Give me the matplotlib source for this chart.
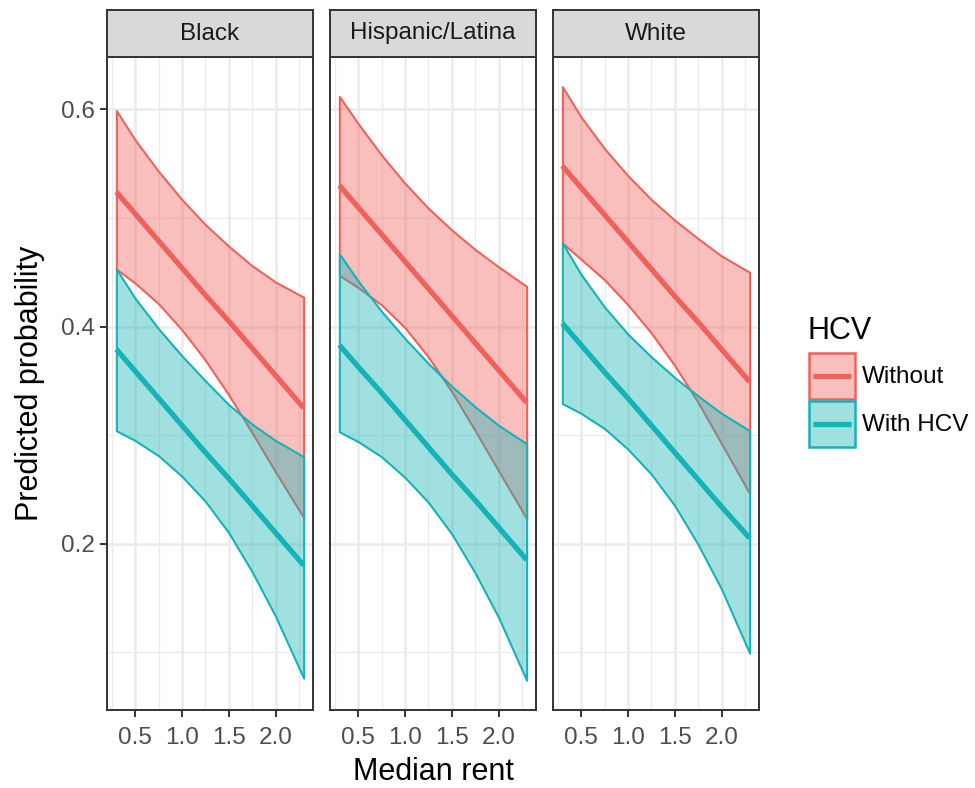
import matplotlib
matplotlib.use("Agg")
import matplotlib.pyplot as plt
from matplotlib.colors import to_rgba
from matplotlib.patches import Rectangle
from matplotlib.lines import Line2D
from matplotlib.ticker import MultipleLocator

plt.rcParams['font.family'] = ['Liberation Sans', 'DejaVu Sans']

# data
rent = [0.3, 0.5, 0.75, 1.0, 1.25, 1.5, 1.75, 2.0, 2.3]
facets = ["Black", "Hispanic/Latina", "White"]
groups = ["Without", "With HCV"]

black_without_fit = [0.524, 0.504, 0.479, 0.454, 0.429, 0.405, 0.380, 0.355, 0.325]
black_without_lo = [0.453, 0.440, 0.421, 0.397, 0.369, 0.337, 0.302, 0.266, 0.224]
black_without_hi = [0.599, 0.572, 0.543, 0.517, 0.494, 0.474, 0.456, 0.441, 0.427]
black_with_fit = [0.379, 0.359, 0.334, 0.309, 0.284, 0.260, 0.235, 0.210, 0.180]
black_with_lo = [0.304, 0.295, 0.281, 0.262, 0.239, 0.210, 0.174, 0.133, 0.076]
black_with_hi = [0.453, 0.426, 0.398, 0.373, 0.350, 0.328, 0.310, 0.295, 0.280]

hisp_without_fit = [0.530, 0.510, 0.485, 0.460, 0.435, 0.410, 0.385, 0.360, 0.330]
hisp_without_lo = [0.447, 0.436, 0.420, 0.399, 0.372, 0.340, 0.304, 0.267, 0.223]
hisp_without_hi = [0.612, 0.587, 0.558, 0.532, 0.509, 0.489, 0.471, 0.455, 0.437]
hisp_with_fit = [0.383, 0.363, 0.339, 0.314, 0.289, 0.264, 0.240, 0.215, 0.185]
hisp_with_lo = [0.303, 0.294, 0.280, 0.261, 0.238, 0.209, 0.173, 0.132, 0.074]
hisp_with_hi = [0.467, 0.442, 0.414, 0.389, 0.366, 0.345, 0.326, 0.309, 0.292]

white_without_fit = [0.548, 0.528, 0.503, 0.478, 0.453, 0.428, 0.404, 0.379, 0.349]
white_without_lo = [0.477, 0.462, 0.443, 0.420, 0.394, 0.364, 0.330, 0.292, 0.246]
white_without_hi = [0.621, 0.593, 0.564, 0.539, 0.517, 0.498, 0.481, 0.465, 0.450]
white_with_fit = [0.403, 0.383, 0.358, 0.334, 0.309, 0.284, 0.259, 0.234, 0.205]
white_with_lo = [0.329, 0.320, 0.306, 0.287, 0.264, 0.235, 0.199, 0.158, 0.099]
white_with_hi = [0.477, 0.448, 0.418, 0.393, 0.372, 0.353, 0.336, 0.320, 0.304]

panels = [
    [(black_without_lo, black_without_hi, black_without_fit),
     (black_with_lo, black_with_hi, black_with_fit)],
    [(hisp_without_lo, hisp_without_hi, hisp_without_fit),
     (hisp_with_lo, hisp_with_hi, hisp_with_fit)],
    [(white_without_lo, white_without_hi, white_without_fit),
     (white_with_lo, white_with_hi, white_with_fit)],
]
colors = ["#F1615C", "#16B3B6"]
ALPHA = 0.4

W, H = 975, 788
fig = plt.figure(figsize=(W / 100, H / 100), dpi=100)


def fx(px):
    return px / W


def fy(py):
    return 1 - py / H


all_vals = [v for p in panels for g in p for s in g for v in s]
ymin, ymax = min(all_vals), max(all_vals)
yr = ymax - ymin
xr = max(rent) - min(rent)

lefts = [107, 330, 553]
pw = 206
top, bottom, strip_top = 57, 710, 10

for i, name in enumerate(facets):
    ax = fig.add_axes([fx(lefts[i]), fy(bottom), fx(pw), (bottom - top) / H])
    for g in range(2):
        lo, hi, fit = panels[i][g]
        ax.fill_between(rent, lo, hi, facecolor=to_rgba(colors[g], ALPHA),
                        edgecolor=colors[g], linewidth=1.5, zorder=2 + g)
    for g in range(2):
        lo, hi, fit = panels[i][g]
        ax.plot(rent, fit, color=colors[g], linewidth=3.8, zorder=5,
                solid_capstyle='butt')
    ax.set_xlim(min(rent) - 0.05 * xr, max(rent) + 0.05 * xr)
    ax.set_ylim(ymin - 0.05 * yr, ymax + 0.05 * yr)
    ax.xaxis.set_minor_locator(MultipleLocator(0.25))
    ax.yaxis.set_minor_locator(MultipleLocator(0.1))
    ax.set_xticks([0.5, 1.0, 1.5, 2.0])
    ax.set_xticklabels(["0.5", "1.0", "1.5", "2.0"])
    ax.set_yticks([0.2, 0.4, 0.6])
    ax.set_yticklabels(["0.2", "0.4", "0.6"])
    ax.grid(which='major', color='#EBEBEB', linewidth=1.8, zorder=0)
    ax.grid(which='minor', color='#EBEBEB', linewidth=0.9, zorder=0)
    ax.set_axisbelow(True)
    ax.tick_params(which='minor', length=0)
    ax.tick_params(which='major', length=5, width=1.4, color='#333333',
                   labelsize=17.5, labelcolor='#4D4D4D', pad=4)
    ax.tick_params(axis='x', pad=7)
    if i > 0:
        ax.tick_params(axis='y', which='both', left=False, labelleft=False)
    for s in ax.spines.values():
        s.set_color('#333333')
        s.set_linewidth(1.4)
        s.set_zorder(6)

    sax = fig.add_axes([fx(lefts[i]), fy(top), fx(pw), (top - strip_top) / H])
    sax.set_facecolor('#D9D9D9')
    sax.set_xticks([])
    sax.set_yticks([])
    for s in sax.spines.values():
        s.set_color('#333333')
        s.set_linewidth(1.4)
    sax.text(0.5, 0.5, name, ha='center', va='center', fontsize=17.5,
             color='#1A1A1A', transform=sax.transAxes)

fig.text(fx(433), fy(772), "Median rent", ha='center', va='center', fontsize=22)
fig.text(fx(30), fy(383), "Predicted probability", ha='center', va='center',
         rotation=90, fontsize=22)

# legend
fig.text(fx(808), fy(331), "HCV", ha='left', va='center', fontsize=22)
key_tops = [353, 401]
for g in range(2):
    y0 = key_tops[g]
    fig.add_artist(Rectangle((fx(809), fy(y0 + 46)), fx(46), 46 / H,
                             transform=fig.transFigure,
                             facecolor=to_rgba(colors[g], ALPHA),
                             edgecolor=colors[g], linewidth=1.8))
    fig.add_artist(Line2D([fx(813), fx(851)], [fy(y0 + 23), fy(y0 + 23)],
                          transform=fig.transFigure, color=colors[g],
                          linewidth=3.8, solid_capstyle='butt'))
    fig.text(fx(862), fy(y0 + 24), groups[g], ha='left', va='center',
             fontsize=17.5)

fig.savefig("out.png", dpi=100)
